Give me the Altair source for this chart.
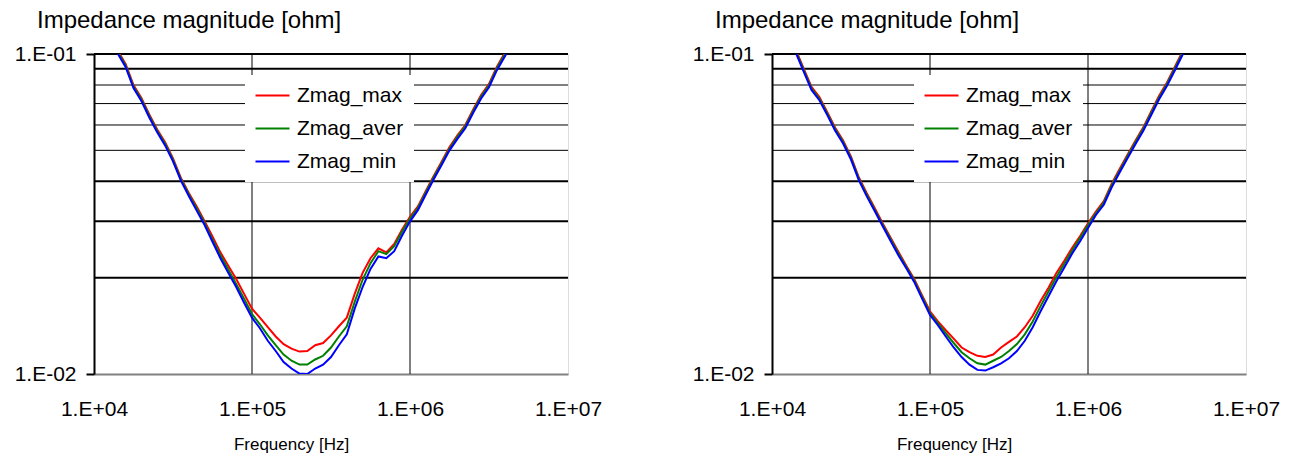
import altair as alt
import pandas as pd

FONT = "Liberation Sans"

freq_hz = [14125, 15849, 17783, 19953, 22387, 25119, 28184, 31623, 35481, 39811,
           44668, 50119, 56234, 63096, 70795, 79433, 89125, 100000, 112202, 125893,
           141254, 158489, 177828, 199526, 223872, 251189, 281838, 316228, 354813, 398107,
           446684, 501187, 562341, 630957, 707946, 794328, 891251, 1000000, 1122018, 1258925,
           1412538, 1584893, 1778279, 1995262, 2238721, 2511886, 2818383, 3162278, 3548134, 3981072,
           4466836]

left_max = [0.1025, 0.0931, 0.0800, 0.0729, 0.0647, 0.0581, 0.0530, 0.0472, 0.0410, 0.0368,
            0.0334, 0.0300, 0.0269, 0.0240, 0.0218, 0.0198, 0.0178, 0.0160, 0.0150, 0.0140,
            0.0131, 0.0124, 0.0120, 0.01175, 0.0118, 0.0123, 0.0125, 0.0132, 0.0141, 0.0150,
            0.0178, 0.0207, 0.0230, 0.0247, 0.0240, 0.0255, 0.0283, 0.0310, 0.0334, 0.0373,
            0.0416, 0.0461, 0.0512, 0.0557, 0.0600, 0.0671, 0.0744, 0.0807, 0.0913, 0.1008,
            0.1110]
left_aver = [0.1014, 0.0921, 0.0791, 0.0721, 0.0640, 0.0575, 0.0524, 0.0467, 0.0406, 0.0364,
             0.0329, 0.0296, 0.0263, 0.0235, 0.0212, 0.0191, 0.0172, 0.0154, 0.0143, 0.0132,
             0.0123, 0.0115, 0.0110, 0.0107, 0.0107, 0.0111, 0.0114, 0.0121, 0.0131, 0.0141,
             0.0168, 0.0197, 0.0222, 0.0242, 0.0237, 0.0251, 0.0279, 0.0306, 0.0330, 0.0369,
             0.0412, 0.0456, 0.0506, 0.0551, 0.0594, 0.0664, 0.0736, 0.0798, 0.0903, 0.0997,
             0.1098]
left_min = [0.1003, 0.0911, 0.0783, 0.0713, 0.0633, 0.0569, 0.0518, 0.0462, 0.0402, 0.0360,
            0.0324, 0.0292, 0.0259, 0.0230, 0.0207, 0.0187, 0.0167, 0.0150, 0.0139, 0.0127,
            0.0118, 0.0109, 0.0104, 0.01003, 0.0100, 0.0104, 0.0107, 0.0113, 0.0123, 0.0133,
            0.0160, 0.0187, 0.0213, 0.0233, 0.0230, 0.0242, 0.0271, 0.0300, 0.0325, 0.0364,
            0.0406, 0.0450, 0.0500, 0.0543, 0.0586, 0.0655, 0.0726, 0.0787, 0.0890, 0.0983,
            0.1083]

right_max = [0.1033, 0.0902, 0.0789, 0.0733, 0.0658, 0.0588, 0.0537, 0.0478, 0.0411, 0.0367,
             0.0330, 0.0296, 0.0267, 0.0241, 0.0218, 0.0198, 0.0176, 0.0157, 0.0146, 0.0137,
             0.0129, 0.0121, 0.0117, 0.0114, 0.0113, 0.0115, 0.0121, 0.0126, 0.0131, 0.0140,
             0.0152, 0.0169, 0.0186, 0.0207, 0.0226, 0.0248, 0.0270, 0.0296, 0.0322, 0.0347,
             0.0393, 0.0437, 0.0484, 0.0536, 0.0590, 0.0661, 0.0740, 0.0815, 0.0913, 0.1023,
             0.1126]
right_aver = [0.1022, 0.0892, 0.0780, 0.0725, 0.0651, 0.0582, 0.0531, 0.0473, 0.0407, 0.0363,
              0.0326, 0.0293, 0.0264, 0.0238, 0.0216, 0.0196, 0.0174, 0.0155, 0.0144, 0.0134,
              0.0125, 0.0117, 0.0112, 0.0108, 0.0107, 0.0110, 0.0113, 0.0118, 0.0124, 0.0133,
              0.0146, 0.0163, 0.0181, 0.0201, 0.0221, 0.0243, 0.0266, 0.0292, 0.0318, 0.0343,
              0.0389, 0.0432, 0.0479, 0.0530, 0.0584, 0.0654, 0.0732, 0.0806, 0.0903, 0.1012,
              0.1114]
right_min = [0.1011, 0.0882, 0.0772, 0.0717, 0.0644, 0.0576, 0.0525, 0.0468, 0.0403, 0.0359,
             0.0323, 0.0290, 0.0261, 0.0235, 0.0214, 0.0194, 0.0172, 0.0153, 0.0142, 0.0131,
             0.0121, 0.0113, 0.0107, 0.0103, 0.01025, 0.0105, 0.0108, 0.0112, 0.0118, 0.0127,
             0.0140, 0.0157, 0.0175, 0.0195, 0.0215, 0.0238, 0.0260, 0.0286, 0.0314, 0.0338,
             0.0383, 0.0426, 0.0472, 0.0522, 0.0576, 0.0645, 0.0722, 0.0795, 0.0890, 0.0998,
             0.1098]

series_names = ["Zmag_max", "Zmag_aver", "Zmag_min"]
series_colors = ["#ff0000", "#008000", "#0000ff"]

x_ticks = [1e4, 1e5, 1e6, 1e7]
y_ticks = [0.01, 0.1]
hgrid_values = [0.02, 0.03, 0.04, 0.05, 0.06, 0.07, 0.08, 0.09, 0.1]
hgrid_widths = [2, 2, 2, 1, 1, 1, 1, 2, 2]
vgrid_values = [1e5, 1e6]

title_text = "Impedance magnitude [ohm]"
x_title = "Frequency [Hz]"

xscale = alt.Scale(type="log", domain=[1e4, 1e7])
yscale = alt.Scale(type="log", domain=[0.01, 0.1])


def make_xaxis(title_x):
    return alt.Axis(values=x_ticks,
                    labelExpr="'1.E+0' + format(log(datum.value)/LN10, '.0f')",
                    ticks=False, grid=False, domainColor="#808080", domainWidth=2,
                    labelFontSize=21, labelFont=FONT, labelColor="black",
                    labelPadding=24, labelFlush=False, labelOverlap=False,
                    title=x_title, titleFontSize=17, titleFont=FONT,
                    titleFontWeight="normal", titleColor="black", titlePadding=17,
                    titleX=title_x, titleAlign="center")


yaxis = alt.Axis(values=y_ticks,
                 labelExpr="'1.E-0' + format(-log(datum.value)/LN10, '.0f')",
                 grid=False, tickColor="black", tickWidth=2, tickSize=8,
                 domainColor="black", domainWidth=2,
                 labelFontSize=21, labelFont=FONT, labelColor="black",
                 labelPadding=10, labelFlush=False, title=None)


def panel(zmax, zaver, zmin, legend_x, legend_y, title_x):
    rows = []
    for name, vals in zip(series_names, [zmax, zaver, zmin]):
        for f, z in zip(freq_hz, vals):
            rows.append({"f": f, "z": z, "series": name})
    df = pd.DataFrame(rows)
    hg = pd.DataFrame({"y": hgrid_values, "w": hgrid_widths})
    vg = pd.DataFrame({"x": vgrid_values})
    xaxis = make_xaxis(title_x)

    hrules = alt.Chart(hg).mark_rule(color="black").encode(
        y=alt.Y("y:Q", scale=yscale, axis=yaxis),
        strokeWidth=alt.StrokeWidth("w:Q", scale=None),
    )
    vrules = alt.Chart(vg).mark_rule(color="black", strokeWidth=1).encode(
        x=alt.X("x:Q", scale=xscale, axis=xaxis),
    )
    lines = alt.Chart(df).mark_line(strokeWidth=2, clip=True).encode(
        x=alt.X("f:Q", scale=xscale, axis=xaxis),
        y=alt.Y("z:Q", scale=yscale, axis=yaxis),
        color=alt.Color("series:N",
                        scale=alt.Scale(domain=series_names, range=series_colors),
                        legend=alt.Legend(orient="none", legendX=legend_x, legendY=legend_y,
                                          title=None, direction="vertical",
                                          symbolType="M-2,0H2", symbolSize=289,
                                          symbolStrokeWidth=2, symbolOffset=7,
                                          labelOffset=14, labelFontSize=21, labelFont=FONT,
                                          labelColor="black", rowPadding=11, padding=10,
                                          fillColor="white")),
        detail="series:N",
    )
    return alt.layer(hrules, vrules, lines).properties(
        width=474, height=320,
        title=alt.TitleParams(title_text, anchor="start", dx=-57, fontSize=24, font=FONT,
                              fontWeight="normal", color="black", frame="group", offset=10),
    )


left = panel(left_max, left_aver, left_min, 151, 21, 197)
right = panel(right_max, right_aver, right_min, 142, 21, 182)

chart = alt.hconcat(left, right, spacing=88).resolve_scale(
    color="independent").resolve_legend(color="independent").properties(
    padding={"left": 13, "top": 8, "right": 5, "bottom": 5}
).configure_view(stroke="#808080", strokeWidth=2).configure(background="white")

chart.save("out.html", embed_options={"renderer": "svg", "actions": False})
